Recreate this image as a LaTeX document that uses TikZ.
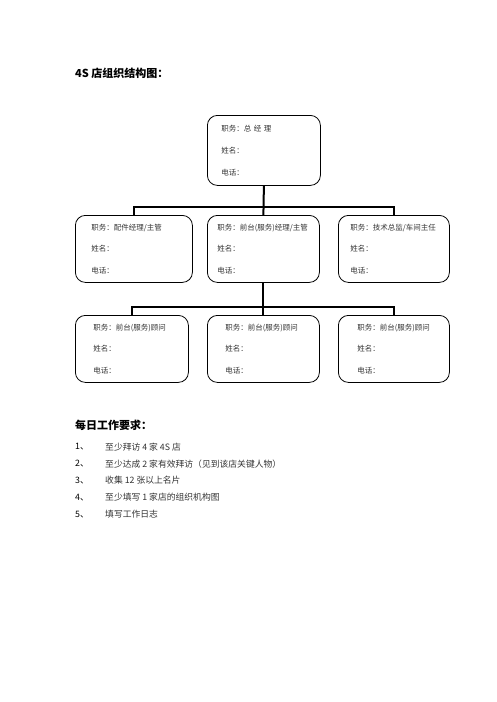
\documentclass[tikz,border=0pt]{standalone}
\usepackage{fontspec}
\setmainfont{Noto Sans CJK SC}
\usetikzlibrary{positioning}

\tikzset{
  post/.style={draw, line width=0.8pt, rounded corners=10pt, anchor=north west,
    minimum height=67pt, align=left, inner xsep=12pt, text=black!80,
    font=\fontsize{7.5}{21.5}\selectfont},
  link/.style={line width=2pt},
  heading/.style={anchor=west, inner sep=0pt, font=\fontsize{11}{13}\selectfont\bfseries}
}

\begin{document}
\begin{tikzpicture}[x=1pt,y=-1pt]
		\useasboundingbox (0,0) rectangle (496,702);

		\node[heading] (title) at (75,73) {4S 店组织结构图：};

		% top level
		\node[post, minimum width=113pt, minimum height=70pt, inner xsep=14pt, text width=85pt,
		  font=\fontsize{7.5}{22}\selectfont] (gm) at (207,115)
		  {职务：总 经 理\\姓名：\\电话：};

		% second level
		\node[post, minimum width=113pt, inner xsep=16pt, text width=85pt] (parts) at (75,215)
		  {职务：配件经理/主管\\姓名：\\电话：};
		\node[post, minimum width=112pt, inner xsep=10pt, text width=92pt] (front) at (207,215)
		  {职务：前台(服务)经理/主管\\姓名：\\电话：};
		\node[post, minimum width=111pt, text width=87pt] (tech) at (338,215)
		  {职务：技术总监/车间主任\\姓名：\\电话：};

		% third level
		\node[post, minimum width=113pt, inner xsep=18pt, text width=77pt] (adv1) at (75,315)
		  {职务：前台(服务)顾问\\姓名：\\电话：};
		\node[post, minimum width=112pt, inner xsep=18pt, text width=76pt] (adv2) at (207,315)
		  {职务：前台(服务)顾问\\姓名：\\电话：};
		\node[post, minimum width=111pt, inner xsep=19pt, text width=73pt] (adv3) at (338,315)
		  {职务：前台(服务)顾问\\姓名：\\电话：};

		\coordinate (bus1) at (gm.south |- 0,207);
		\coordinate (bus2) at (front.south |- 0,307);

		\draw[link] (gm.south) -- (front.north);
		\draw[link] (parts.north) |- (bus1) -| (tech.north);
		\draw[link] (front.south) -- (adv2.north);
		\draw[link] (adv1.north) |- (bus2) -| (adv3.north);

		\node[heading] (daily) at (75,425) {每日工作要求：};

		\foreach \i/\txt in {1/至少拜访 4 家 4S 店, 2/至少达成 2 家有效拜访（见到该店关键人物）,
		    3/收集 12 张以上名片, 4/至少填写 1 家店的组织机构图, 5/填写工作日志}{
		  \node[anchor=west, inner sep=0pt, font=\fontsize{8.8}{10}\selectfont] (num\i)
		    at (75,{447+(\i-1)*16.8}) {\i、};
		  \node[anchor=west, inner sep=0pt, text=black!80, font=\fontsize{8.8}{10}\selectfont] (item\i)
		    at (105,{447+(\i-1)*16.8}) {\txt};
		}
	\end{tikzpicture}
\end{document}
